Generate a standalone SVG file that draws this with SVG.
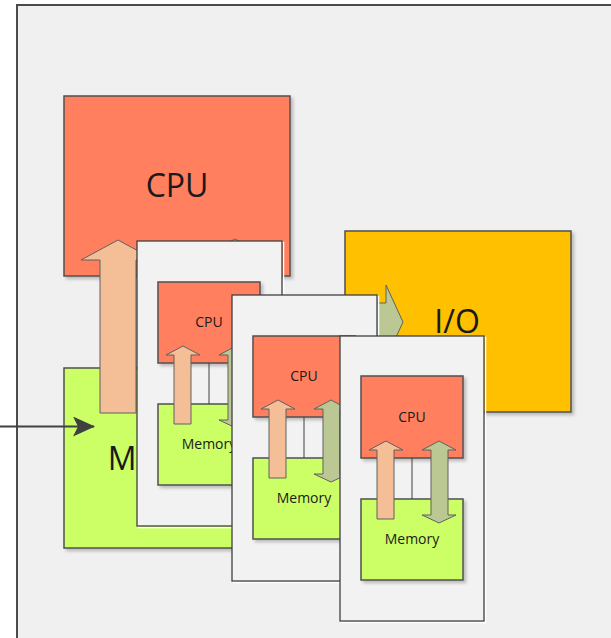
<svg xmlns="http://www.w3.org/2000/svg" width="611" height="638" viewBox="0 0 611 638">
<defs>
<filter id="sh" x="-10%" y="-10%" width="130%" height="130%"><feDropShadow dx="2.5" dy="2.5" stdDeviation="1.5" flood-color="#000" flood-opacity="0.22"/></filter>
<marker id="ah" viewBox="0 0 22 20" refX="21" refY="10" markerWidth="22" markerHeight="20" markerUnits="userSpaceOnUse" orient="auto"><path d="M0,0 L22,10 L0,20 L5,10 Z" fill="#404040"/></marker>
</defs>
<style>
.cpu{fill:#ff7f5f;stroke:#505050;stroke-width:1.5}
.mem{fill:#ccff66;stroke:#505050;stroke-width:1.5}
.io{fill:#ffc000;stroke:#505050;stroke-width:1.5}
.card{fill:#f2f2f2;stroke:#404040;stroke-width:1.3}
.halo{fill:none;stroke:#ffffff;stroke-width:1.5}
.up{fill:#f4bf96;stroke:#606060;stroke-width:1}
.bi{fill:#bcc893;stroke:#606060;stroke-width:1}
.lbl{font-family:"Open Sans","Liberation Sans",sans-serif;fill:#1a1a1a;text-anchor:middle}
.big{font-size:32px}
.small{font-size:14px}
.wire{stroke:#404040;stroke-width:1;fill:none}
.in{stroke:#404040;stroke-width:2;fill:none}
</style>
<rect x="0" y="0" width="611" height="638" fill="#ffffff"/>
<rect id="frame" x="17" y="5" width="620" height="660" fill="#f0f0f0" stroke="#4a4a4a" stroke-width="2"/>

<g id="cpu-main">
<rect class="cpu" x="64" y="96" width="226" height="180" filter="url(#sh)"/>
<text class="lbl big" x="177" y="197">CPU</text>
</g>
<g id="memory-main">
<rect class="mem" x="64" y="368" width="226" height="180" filter="url(#sh)"/>
<text class="lbl big" x="170" y="470">Memory</text>
</g>
<g id="io">
<rect class="io" x="345" y="231" width="226" height="181" filter="url(#sh)"/>
<text class="lbl big" x="457" y="333">I/O</text>
</g>

<g id="connectors">
<line class="in" x1="0" y1="426.5" x2="94" y2="426.5" marker-end="url(#ah)"/>
<polygon class="bi" points="250,303 386,303 386,285 403,322 386,359 386,341 250,341"/>
<polygon class="up" points="118,240 155,260 136,260 136,413 100,413 100,260 81,260"/>
<polygon class="bi" points="235,239 272,259 253,259 253,395 272,395 235,415 198,395 217,395 217,259 198,259"/>
</g>

<g id="card1" transform="translate(137,241)">
<rect class="halo" x="1.5" y="1.5" width="145" height="285"/>
<rect class="card" x="0" y="0" width="145" height="285"/>
<rect class="cpu" x="21" y="41" width="102" height="81" filter="url(#sh)"/>
<rect class="mem" x="21" y="163" width="102" height="81" filter="url(#sh)"/>
<line class="wire" x1="72" y1="122" x2="72" y2="163"/>
<text class="lbl small" x="72" y="86">CPU</text>
<text class="lbl small" x="72" y="208">Memory</text>
<polygon class="up" points="46,105 63,114 54,114 54,183 37,183 37,114 29,114"/>
<polygon class="bi" points="99,105 116,114 108,114 108,179 116,179 99,187 82,179 91,179 91,114 82,114"/>
</g>

<g id="card2" transform="translate(232,295)">
<rect class="halo" x="1.5" y="1.5" width="145" height="286"/>
<rect class="card" x="0" y="0" width="145" height="286"/>
<rect class="cpu" x="21" y="41" width="102" height="81" filter="url(#sh)"/>
<rect class="mem" x="21" y="163" width="102" height="81" filter="url(#sh)"/>
<line class="wire" x1="72" y1="122" x2="72" y2="163"/>
<text class="lbl small" x="72" y="86">CPU</text>
<text class="lbl small" x="72" y="208">Memory</text>
<polygon class="up" points="46,105 63,114 54,114 54,183 37,183 37,114 29,114"/>
<polygon class="bi" points="99,105 116,114 108,114 108,179 116,179 99,187 82,179 91,179 91,114 82,114"/>
</g>

<g id="card3" transform="translate(340,336)">
<rect class="halo" x="1.5" y="1.5" width="144" height="285"/>
<rect class="card" x="0" y="0" width="144" height="285"/>
<rect class="cpu" x="21" y="40" width="102" height="82" filter="url(#sh)"/>
<rect class="mem" x="21" y="163" width="102" height="81" filter="url(#sh)"/>
<line class="wire" x1="72" y1="122" x2="72" y2="163"/>
<text class="lbl small" x="72" y="86">CPU</text>
<text class="lbl small" x="72" y="208">Memory</text>
<polygon class="up" points="46,105 63,114 54,114 54,183 37,183 37,114 29,114"/>
<polygon class="bi" points="99,105 116,114 108,114 108,179 116,179 99,187 82,179 91,179 91,114 82,114"/>
</g>
</svg>
